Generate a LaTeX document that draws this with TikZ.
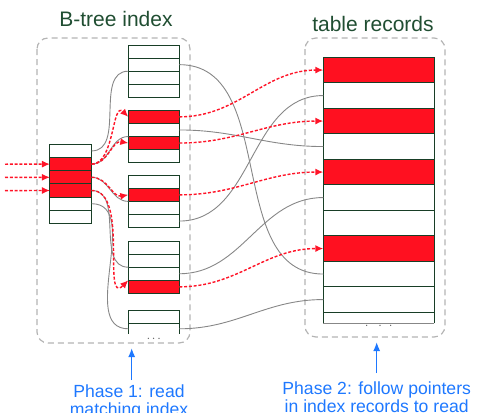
\documentclass[tikz,border=0pt]{standalone}
\usepackage{fontspec}
\setmainfont{Liberation Sans}
\usetikzlibrary{arrows.meta}
\definecolor{rfill}{RGB}{255,16,32}
\definecolor{rline}{RGB}{255,20,40}
\definecolor{bgreen}{RGB}{24,62,38}
\definecolor{tgreen}{RGB}{32,78,50}
\definecolor{boxgray}{RGB}{180,180,180}
\definecolor{gline}{RGB}{135,135,135}
\definecolor{pblue}{RGB}{30,120,255}
\begin{document}
\begin{tikzpicture}[x=1pt,y=-1pt,
  cell/.style={draw=bgreen,line width=1pt,inner sep=0pt,outer sep=0pt,fill=white},
  rootcell/.style={cell,minimum width=41.7pt,minimum height=13.2pt},
  leafcell/.style={cell,minimum width=51pt,minimum height=13.1pt},
  reccell/.style={cell,minimum width=111pt,minimum height=25.5pt},
  groupbox/.style={draw=boxgray,line width=1.2pt,dash pattern=on 6pt off 4pt,rounded corners=11pt},
  ptr/.style={draw=gline,line width=0.9pt},
  hit/.style={draw=rline,line width=1.4pt,dash pattern=on 3pt off 1.8pt,-{Latex[length=8pt,width=7pt]}},
  phasearrow/.style={draw=pblue,line width=1.5pt,-{Latex[length=9pt,width=7pt]}},
  title/.style={text=tgreen,font=\fontsize{21}{25}\selectfont,inner sep=0pt},
  phase/.style={text=pblue,font=\fontsize{17.6}{18}\selectfont,inner sep=0pt,anchor=base},
  dot/.style={fill=gline!70!black,circle,inner sep=0pt,minimum size=1.4pt}
]
\useasboundingbox (0,0) rectangle (483,413);
\clip (0,0) rectangle (483,413);

% group boxes
\draw[groupbox] (37,38) rectangle (190,343);
\draw[groupbox] (305,38) rectangle (445,337);

% titles
\node[title] (ttl1) at (116,19) {B-tree index};
\node[title] (ttl2) at (373,24) {table records};

% root node
\foreach \i/\f in {0/white,1/rfill,2/rfill,3/rfill,4/white,5/white}
  \node[rootcell,fill=\f] (r\i) at (70.8,{144.3+13.2*(\i+0.5)}) {};

% leaves
\foreach \i/\f in {0/white,1/white,2/white,3/white}
  \node[leafcell,fill=\f] (la\i) at (153.8,{45+13.1*(\i+0.5)}) {};
\foreach \i/\f in {0/rfill,1/white,2/rfill,3/white}
  \node[leafcell,fill=\f] (lb\i) at (153.8,{110.3+13.1*(\i+0.5)}) {};
\foreach \i/\f in {0/white,1/rfill,2/white,3/white}
  \node[leafcell,fill=\f] (lc\i) at (153.8,{175.2+13.1*(\i+0.5)}) {};
\foreach \i/\f in {0/white,1/white,2/white,3/rfill}
  \node[leafcell,fill=\f] (ld\i) at (153.8,{241+13.1*(\i+0.5)}) {};
\node[leafcell] (le0) at (153.8,316.8) {};
\node[inner sep=0pt,outer sep=0pt,minimum width=51pt,minimum height=11pt] (le1) at (153.8,328.8) {};
\draw[bgreen,line width=1pt] (le1.north west) -- (le1.south west);
\draw[bgreen,line width=1pt] (le1.north east) -- (le1.south east);
\node[dot] (ed1) at (148.3,338.3) {};
\node[dot] (ed2) at (153.6,338.3) {};
\node[dot] (ed3) at (159,338.3) {};

% table records
\foreach \i/\f in {0/rfill,1/white,2/rfill,3/white,4/rfill,5/white,6/white,7/rfill,8/white,9/white}
  \node[reccell,fill=\f] (t\i) at (378.8,{57.3+25.5*(\i+0.5)}) {};
\node[inner sep=0pt,outer sep=0pt,minimum width=111pt,minimum height=11pt] (t10) at (378.8,317.8) {};
\draw[bgreen,line width=1pt] (t10.south west) -- (t10.north west);
\draw[bgreen,line width=1pt] (t10.south east) -- (t10.north east);
\draw[gline,line width=1pt] (t10.south west) -- (t10.south east);
\node[dot] (td1) at (366.7,325.3) {};
\node[dot] (td2) at (380,325.3) {};
\node[dot] (td3) at (390.7,325.3) {};

% child pointers root -> leaves
\draw[ptr] (r0.east) to[out=0,in=180] (la1.south west);
\draw[ptr] (r1.east) to[out=0,in=180] (lb1.south west);
\draw[ptr] (r2.east) to[out=0,in=180] (lc1.south west);
\draw[ptr] (r3.east) to[out=0,in=180] (ld1.south west);
\draw[ptr] (r4.east) to[out=0,in=180] (le1.west);

% record pointers leaves -> table
\draw[ptr] (la1.east) to[out=0,in=180] (t8.west);
\draw[ptr] (lb1.east) to[out=0,in=180] (t3.west);
\draw[ptr] (lc3.east) to[out=0,in=180] (t1.west);
\draw[ptr] (ld2.east) to[out=0,in=180] (t5.west);
\draw[ptr] (le1.east) to[out=0,in=180] (t9.west);

% incoming search arrows
\coordinate (in1) at (5,164.2);
\coordinate (in2) at (5,177.4);
\coordinate (in3) at (5,190.6);
\draw[hit] (in1) -- (r1.west);
\draw[hit] (in2) -- (r2.west);
\draw[hit] (in3) -- (r3.west);

% root -> leaf matches
\draw[hit] (r1.east) to[out=0,in=135] (lb0.west);
\draw[hit] (r1.east) to[out=0,in=170] (lb2.west);
\draw[hit] (r2.east) to[out=0,in=190] (lc1.west);
\draw[hit] (r3.east) to[out=0,in=225] (ld3.north west);

% leaf -> table matches
\draw[hit] (lb0.east) to[out=0,in=180] (t0.west);
\draw[hit] (lb2.east) to[out=0,in=180] (t2.west);
\draw[hit] (lc1.east) to[out=0,in=180] (t4.west);
\draw[hit] (ld3.east) to[out=0,in=180] (t7.west);

% phase labels
\node[phase] (p1a) at (129,397) {Phase 1: read};
\node[phase] (p1b) at (129,415) {matching index};
\node[phase] (p2a) at (376.7,394) {Phase 2: follow pointers};
\node[phase] (p2b) at (376.7,412) {in index records to read};
\coordinate (a1s) at (131.7,380);
\coordinate (a1) at (131.7,348);
\coordinate (a2s) at (376.7,373);
\coordinate (a2) at (376.7,342);
\draw[phasearrow] (a1s) -- (a1);
\draw[phasearrow] (a2s) -- (a2);
\end{tikzpicture}
\end{document}
